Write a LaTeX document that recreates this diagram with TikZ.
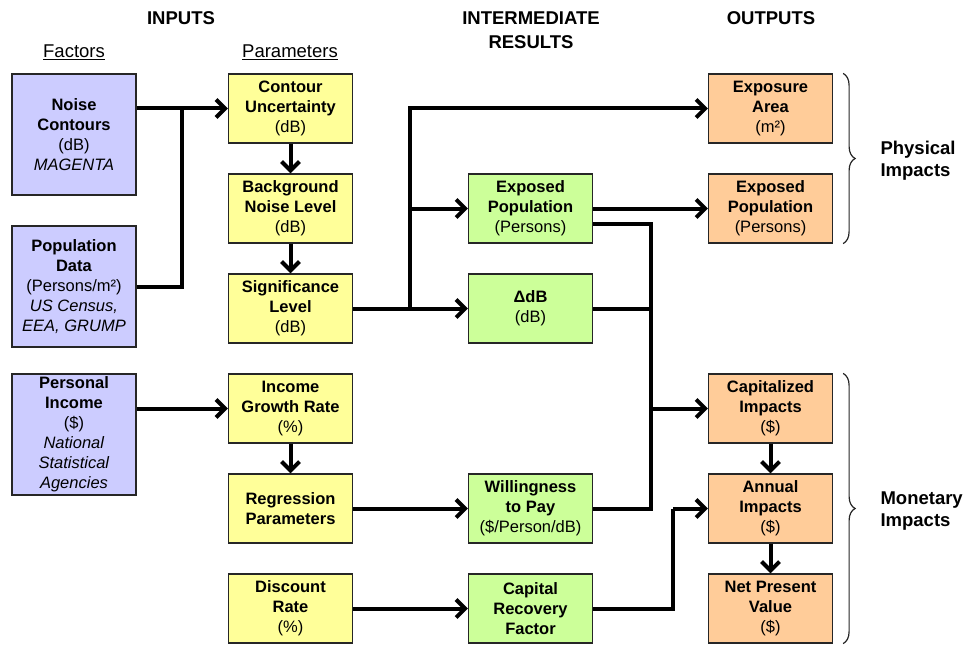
\documentclass[tikz,border=0pt]{standalone}
\usepackage{fontspec}
\setmainfont{Liberation Sans}
\usepackage{xcolor}
\usetikzlibrary{arrows.meta,decorations.pathreplacing}

\definecolor{factorblue}{HTML}{CCCCFF}
\definecolor{paramyellow}{HTML}{FFFF99}
\definecolor{resultgreen}{HTML}{CCFF99}
\definecolor{outputorange}{HTML}{FFCC99}

\tikzset{
  box/.style={draw=black!85, line width=1.2pt, minimum width=124pt, minimum height=69pt,
    inner sep=0pt, align=center, font=\fontsize{16.5}{20}\selectfont},
  factor/.style={box, fill=factorblue, minimum height=121pt},
  param/.style={box, fill=paramyellow},
  result/.style={box, fill=resultgreen},
  output/.style={box, fill=outputorange},
  wire/.style={line width=4pt},
  flow/.style={wire, -{Straight Barb[length=9pt,width=18pt]}},
  heading/.style={font=\fontsize{18.5}{24}\selectfont\bfseries, align=center},
  column/.style={font=\fontsize{18.5}{24}\selectfont},
  impact/.style={decorate, decoration={brace, amplitude=12pt}, line width=1.2pt, black!85},
  impactlabel/.style={font=\fontsize{18.5}{22}\selectfont\bfseries, align=left, anchor=west}
}

\begin{document}
\begin{tikzpicture}[x=1pt, y=-1pt]
    \useasboundingbox (0,0) rectangle (971,647);

    % headings
    \node[heading] (hin) at (181,18) {INPUTS};
    \node[heading] (hmid) at (531,30) {INTERMEDIATE\\RESULTS};
    \node[heading] (hout) at (771,18) {OUTPUTS};
    \node[column] (hfac) at (74,52) {\underline{Factors}};
    \node[column] (hpar) at (290,52) {\underline{Parameters}};

    % factors
    \node[factor] (nc) at (74,134.5) {\textbf{Noise}\\\textbf{Contours}\\(dB)\\\textit{MAGENTA}};
    \node[factor] (pd) at (74,286.5) {\textbf{Population}\\\textbf{Data}\\(Persons/m²)\\\textit{US Census,}\\\textit{EEA, GRUMP}};
    \node[factor] (pi) at (74,434.5) {\textbf{Personal}\\\textbf{Income}\\(\$)\\\textit{National}\\\textit{Statistical}\\\textit{Agencies}};

    % parameters
    \node[param] (cu) at (290.5,108.5) {\textbf{Contour}\\\textbf{Uncertainty}\\(dB)};
    \node[param] (bnl) at (290.5,208.5) {\textbf{Background}\\\textbf{Noise Level}\\(dB)};
    \node[param] (sl) at (290.5,308.5) {\textbf{Significance}\\\textbf{Level}\\(dB)};
    \node[param] (igr) at (290.5,408.5) {\textbf{Income}\\\textbf{Growth Rate}\\(\%)};
    \node[param] (rp) at (290.5,508.5) {\textbf{Regression}\\\textbf{Parameters}};
    \node[param] (dr) at (290.5,608.5) {\textbf{Discount}\\\textbf{Rate}\\(\%)};

    % intermediate results
    \node[result] (ep) at (530.5,208.5) {\textbf{Exposed}\\\textbf{Population}\\(Persons)};
    \node[result] (ddb) at (530.5,308.5) {\textbf{ΔdB}\\(dB)};
    \node[result] (wtp) at (530.5,508.5) {\textbf{Willingness}\\\textbf{to Pay}\\(\$/Person/dB)};
    \node[result] (crf) at (530.5,608.5) {\textbf{Capital}\\\textbf{Recovery}\\\textbf{Factor}};

    % outputs
    \node[output] (ea) at (770.5,108.5) {\textbf{Exposure}\\\textbf{Area}\\(m²)};
    \node[output] (op) at (770.5,208.5) {\textbf{Exposed}\\\textbf{Population}\\(Persons)};
    \node[output] (ci) at (770.5,408.5) {\textbf{Capitalized}\\\textbf{Impacts}\\(\$)};
    \node[output] (ai) at (770.5,508.5) {\textbf{Annual}\\\textbf{Impacts}\\(\$)};
    \node[output] (npv) at (770.5,608.5) {\textbf{Net Present}\\\textbf{Value}\\(\$)};

    % junctions
    \coordinate (jin) at (182,108.5);
    \coordinate (jsl) at (410,308.5);
    \coordinate (jci) at (651,408.5);
    \coordinate (jai) at (673,508.5);

    % connectors
    \draw[flow] (nc.east |- cu.west) -- (cu.west);
    \draw[wire] (pd.east) -| (jin);
    \draw[flow] (sl.east) -- (ddb.west);
    \draw[flow] (jsl) |- (ea.west);
    \draw[flow] (jsl |- ep.west) -- (ep.west);
    \draw[flow] (ep.east) -- (op.west);
    \draw[wire] ([yshift=-15pt]ep.east) -| (jci);
    \draw[wire] (ddb.east) -- (ddb.east -| jci);
    \draw[wire] (wtp.east) -| (jci);
    \draw[flow] (jci) -- (ci.west);
    \draw[flow] (pi.east |- igr.west) -- (igr.west);
    \draw[flow] (rp.east) -- (wtp.west);
    \draw[flow] (dr.east) -- (crf.west);
    \draw[wire] (crf.east) -| (jai);
    \draw[flow] (jai) -- (ai.west);
    \foreach \a/\b in {cu/bnl, bnl/sl, igr/rp, ci/ai, ai/npv} {
        \draw[flow] (\a) -- (\b);
    }

    % impact groups
    \draw[impact] ([xshift=10pt]ea.north east) -- ([xshift=10pt]op.south east);
    \draw[impact] ([xshift=10pt]ci.north east) -- ([xshift=10pt]npv.south east);
    \node[impactlabel] (phys) at (877,161) {Physical\\Impacts};
    \node[impactlabel] (mon) at (877,511) {Monetary\\Impacts};
\end{tikzpicture}
\end{document}
